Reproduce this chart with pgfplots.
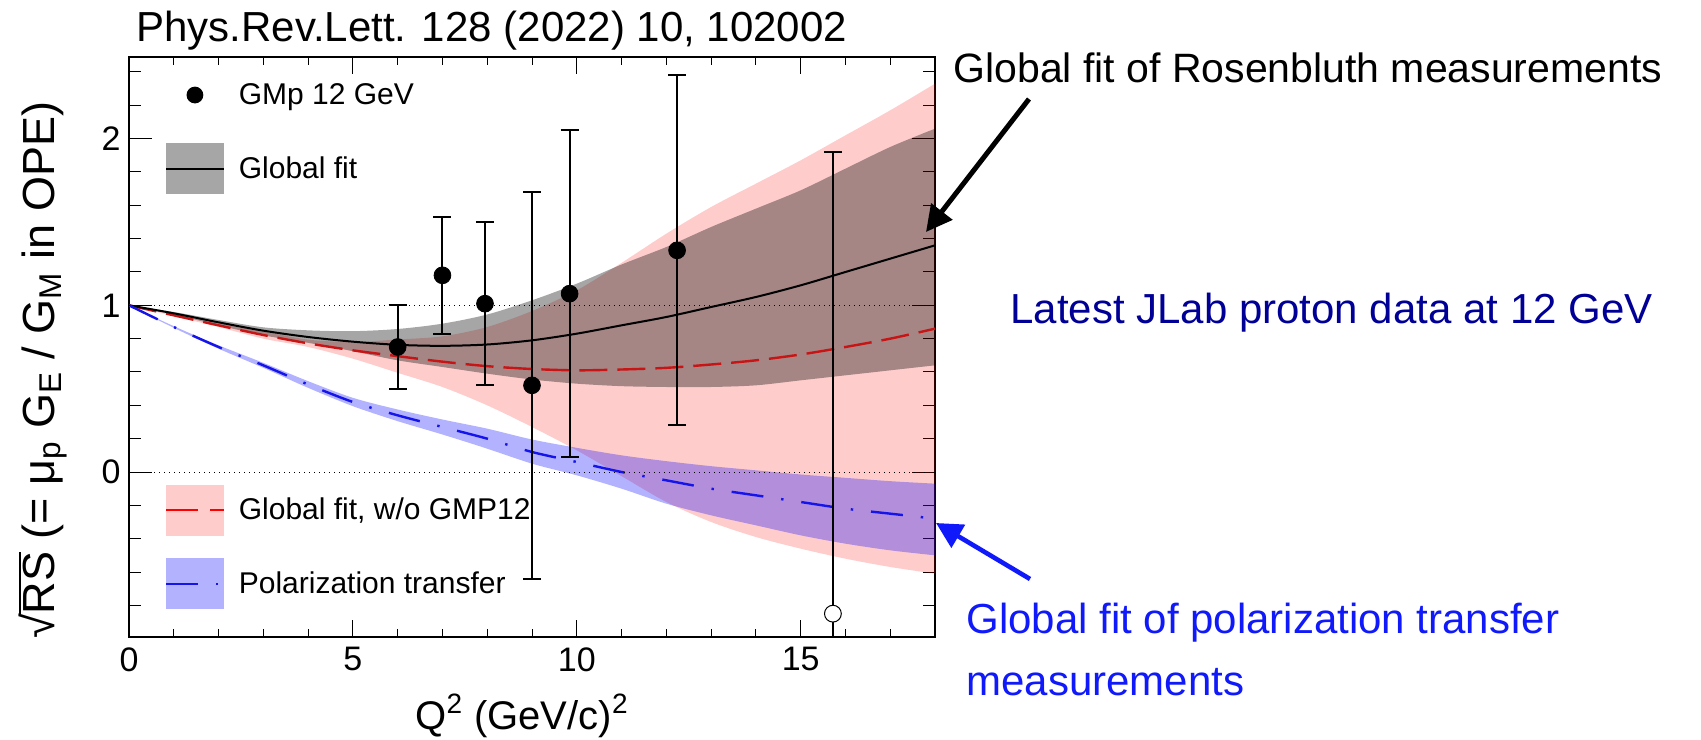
\documentclass[border=0pt]{standalone}
\usepackage{fontspec}
\setmainfont{Liberation Sans}
\usepackage{pgfplots}
\usepackage{pgfplotstable}
\pgfplotsset{compat=1.18}
\usepgfplotslibrary{fillbetween}
\usetikzlibrary{arrows.meta}

\definecolor{fitred}{RGB}{200,20,20}
\definecolor{ptblue}{RGB}{20,20,235}
\definecolor{navytext}{RGB}{0,0,150}
\definecolor{annblue}{RGB}{15,25,250}

\newcommand{\rsqrt}[1]{\mbox{\sbox0{√}\sbox2{#1}\usebox0\kern-0.02em\rlap{\rule[\dimexpr\ht0-0.055em\relax]{\wd2}{0.055em}}\usebox2}}

% Global fit w/o GMP12 (red dashed, pink band)
\pgfplotstableread{
x c lo up
0 1.000 1.000 1.000
1 0.940 0.935 0.945
2 0.880 0.870 0.890
3 0.822 0.800 0.844
4 0.772 0.750 0.794
5 0.730 0.680 0.780
6 0.695 0.595 0.795
7 0.662 0.510 0.814
8 0.635 0.400 0.870
9 0.618 0.270 0.966
10 0.610 0.130 1.090
11 0.615 -0.025 1.255
12 0.625 -0.180 1.430
13 0.645 -0.300 1.590
14 0.670 -0.390 1.730
15 0.705 -0.460 1.870
16 0.750 -0.520 2.020
17 0.800 -0.570 2.170
18 0.860 -0.610 2.330
}\pinktab

% Global fit (black, gray band)
\pgfplotstableread{
x c lo up
0 1.000 1.000 1.000
1 0.952 0.945 0.960
2 0.898 0.880 0.912
3 0.848 0.820 0.868
4 0.810 0.775 0.850
5 0.782 0.725 0.845
6 0.763 0.670 0.858
7 0.757 0.630 0.890
8 0.765 0.590 0.945
9 0.790 0.555 1.030
10 0.830 0.530 1.130
11 0.880 0.515 1.245
12 0.930 0.510 1.350
13 0.990 0.510 1.470
14 1.050 0.520 1.580
15 1.120 0.550 1.690
16 1.200 0.580 1.820
17 1.280 0.610 1.950
18 1.360 0.640 2.060
}\graytab

% Polarization transfer (blue dash-dot, blue band)
\pgfplotstableread{
x c lo up
0 1.000 1.000 1.000
1 0.870 0.865 0.875
2 0.750 0.740 0.760
3 0.640 0.625 0.655
4 0.525 0.505 0.545
5 0.420 0.395 0.445
6 0.340 0.305 0.375
7 0.270 0.225 0.315
8 0.200 0.140 0.260
9 0.120 0.050 0.195
10 0.060 -0.020 0.145
11 0.000 -0.100 0.100
12 -0.050 -0.190 0.065
13 -0.100 -0.260 0.035
14 -0.140 -0.320 0.010
15 -0.180 -0.380 -0.015
16 -0.220 -0.430 -0.035
17 -0.250 -0.470 -0.055
18 -0.280 -0.500 -0.070
}\bluetab

% GMp 12 GeV data
\pgfplotstableread{
x y ep em
6.00 0.75 0.25 0.25
7.00 1.18 0.35 0.35
7.95 1.01 0.49 0.49
9.00 0.52 1.16 1.16
9.84 1.07 0.98 0.98
12.24 1.33 1.05 1.05
}\gmptab

\pgfplotstableread{
x y ep em
15.72 -0.85 2.77 0.14
}\gmpopen

\begin{document}
\begin{tikzpicture}
\begin{axis}[
  at={(0,0)}, anchor=south west,
  scale only axis, width=403pt, height=290pt,
  xmin=0, xmax=18, ymin=-0.99, ymax=2.49,
  xtick={0,5,10,15}, ytick={0,1,2},
  minor xtick={1,2,3,4,6,7,8,9,11,12,13,14,16,17},
  minor ytick={-0.8,-0.6,-0.4,-0.2,0.2,0.4,0.6,0.8,1.2,1.4,1.6,1.8,2.2,2.4},
  tick align=inside,
  xtick pos=both, ytick pos=both,
  axis line style={line width=0.8pt},
  every tick/.append style={black, line width=0.5pt},
  xtick style={/pgfplots/major tick length=8.5pt, /pgfplots/minor tick length=4pt},
  ytick style={/pgfplots/major tick length=11.5pt, /pgfplots/minor tick length=6pt},
  tick label style={font=\fontsize{17}{20}\selectfont},
  /pgf/number format/assume math mode=true,
  xticklabel style={inner sep=0pt, anchor=north, yshift=-5pt},
  yticklabel style={inner sep=0pt, anchor=east, xshift=-4pt},
  xlabel={Q\textsuperscript{2} (GeV/c)\textsuperscript{2}},
  ylabel={\rsqrt{RS} (= μ\textsubscript{p} G\textsubscript{E} / G\textsubscript{M} in OPE)},
  every axis x label/.style={at={(axis description cs:0.5,0)}, anchor=base, yshift=-46pt, xshift=-5pt, font=\fontsize{20}{23}\selectfont},
  every axis y label/.style={at={(axis description cs:-0.1067,0.4603)}, anchor=center, rotate=90, font=\fontsize{22.5}{26}\selectfont},
  legend cell align=left,
  legend style={at={(axis description cs:0.0447,0.9784)}, anchor=north west,
    draw=none, fill=none, inner sep=0pt, outer sep=0pt, row sep=11.35pt,
    font=\fontsize{15}{18}\selectfont, nodes={inner sep=0pt},
    /tikz/every odd column/.append style={column sep=7pt}},
]
% pink band
\addplot[draw=none, forget plot, name path=pu, smooth] table[x=x,y=up]{\pinktab};
\addplot[draw=none, forget plot, name path=pl, smooth] table[x=x,y=lo]{\pinktab};
\addplot[fill=red, fill opacity=0.2, draw=none, forget plot] fill between[of=pu and pl];
% gray band
\addplot[draw=none, forget plot, name path=gu, smooth] table[x=x,y=up]{\graytab};
\addplot[draw=none, forget plot, name path=gl, smooth] table[x=x,y=lo]{\graytab};
\addplot[fill=black, fill opacity=0.35, draw=none, forget plot] fill between[of=gu and gl];
% blue band
\addplot[draw=none, forget plot, name path=bu, smooth] table[x=x,y=up]{\bluetab};
\addplot[draw=none, forget plot, name path=bl, smooth] table[x=x,y=lo]{\bluetab};
\addplot[fill=blue, fill opacity=0.3, draw=none, forget plot] fill between[of=bu and bl];
% central curves
\addplot[fitred, line width=1.2pt, dash pattern=on 14pt off 5pt, smooth, forget plot] table[x=x,y=c]{\pinktab};
\addplot[black, line width=1pt, smooth, forget plot] table[x=x,y=c]{\graytab};
\addplot[ptblue, line width=1.2pt, dash pattern=on 16pt off 9pt on 1.2pt off 9pt, smooth, forget plot] table[x=x,y=c]{\bluetab};
% dotted reference lines
\addplot[black, dotted, line width=0.5pt, forget plot] coordinates {(0,1) (18,1)};
\addplot[black, dotted, line width=0.5pt, forget plot] coordinates {(0,0) (18,0)};
% data
\addplot[black, only marks, mark=*, mark size=4.2pt, forget plot,
  error bars/.cd, y dir=both, y explicit,
  error bar style={line width=1pt, black},
  error mark options={rotate=90, line width=1pt, mark size=4.5pt, black}]
  table[x=x, y=y, y error plus=ep, y error minus=em]{\gmptab};
\addplot[black, only marks, mark=*, mark size=4.2pt, mark options={fill=white, draw=black, line width=0.5pt}, forget plot,
  error bars/.cd, y dir=both, y explicit,
  error bar style={line width=1pt, black},
  error mark options={rotate=90, line width=1pt, mark size=4.5pt, black}]
  table[x=x, y=y, y error plus=ep, y error minus=em]{\gmpopen};
% legend 1
\addlegendimage{legend image code/.code={\path[draw=none, fill=none] (0pt,-12.75pt) rectangle (28.9pt,12.75pt); \fill[black, draw=none] (14.45pt,0pt) circle (4.2pt);}}
\addlegendentry{GMp 12 GeV}
\addlegendimage{legend image code/.code={\fill[black, fill opacity=0.35, draw=none] (0pt,-12.75pt) rectangle (28.9pt,12.75pt); \draw[black, line width=1pt] (0pt,0pt) -- (28.9pt,0pt);}}
\addlegendentry{Global fit}
\end{axis}

\begin{axis}[
  at={(0,0)}, anchor=south west,
  scale only axis, width=403pt, height=290pt,
  xmin=0, xmax=18, ymin=-0.99, ymax=2.49,
  hide axis,
  legend cell align=left,
  legend style={at={(axis description cs:0.0447,0.2629)}, anchor=north west,
    draw=none, fill=none, inner sep=0pt, outer sep=0pt, row sep=11.35pt,
    font=\fontsize{15}{18}\selectfont, nodes={inner sep=0pt},
    /tikz/every odd column/.append style={column sep=7pt}},
]
\addplot[draw=none, forget plot] coordinates {(0,0) (18,1)};
\addlegendimage{legend image code/.code={\fill[red, fill opacity=0.2, draw=none] (0pt,-12.75pt) rectangle (28.9pt,12.75pt); \draw[red, line width=1pt, dash pattern=on 16pt off 6pt] (0pt,0pt) -- (28.9pt,0pt);}}
\addlegendentry{Global fit, w/o GMP12}
\addlegendimage{legend image code/.code={\fill[blue, fill opacity=0.3, draw=none] (0pt,-12.75pt) rectangle (28.9pt,12.75pt); \draw[ptblue, line width=1pt, dash pattern=on 16pt off 9pt on 1pt off 9pt] (0pt,0pt) -- (28.9pt,0pt);}}
\addlegendentry{Polarization transfer}
\end{axis}

% annotations
\node[anchor=base west, inner sep=0pt, font=\fontsize{21}{25}\selectfont] at (3.5pt,297.5pt) {Phys.Rev.Lett. 128 (2022) 10, 102002};
\node[anchor=base west, inner sep=0pt, font=\fontsize{20.5}{25}\selectfont] at (412pt,277pt) {Global fit of Rosenbluth measurements};
\draw[line width=2.5pt, -{Triangle[length=13pt,width=13pt]}] (450pt,269pt) -- (398.5pt,202.5pt);
\node[anchor=base west, inner sep=0pt, text=navytext, font=\fontsize{21}{25}\selectfont] at (440.5pt,156.5pt) {Latest JLab proton data at 12 GeV};
\draw[annblue, line width=2.3pt, -{Triangle[length=13pt,width=13pt]}] (450.5pt,29pt) -- (403.5pt,57pt);
\node[anchor=base west, inner sep=0pt, text=annblue, font=\fontsize{21}{25}\selectfont] at (418.5pt,2pt) {Global fit of polarization transfer};
\node[anchor=base west, inner sep=0pt, text=annblue, font=\fontsize{21}{25}\selectfont] at (418.5pt,-29pt) {measurements};
\pgfresetboundingbox
\path[use as bounding box] (-64.5pt,-51pt) rectangle (786pt,318.5pt);
\end{tikzpicture}
\end{document}
